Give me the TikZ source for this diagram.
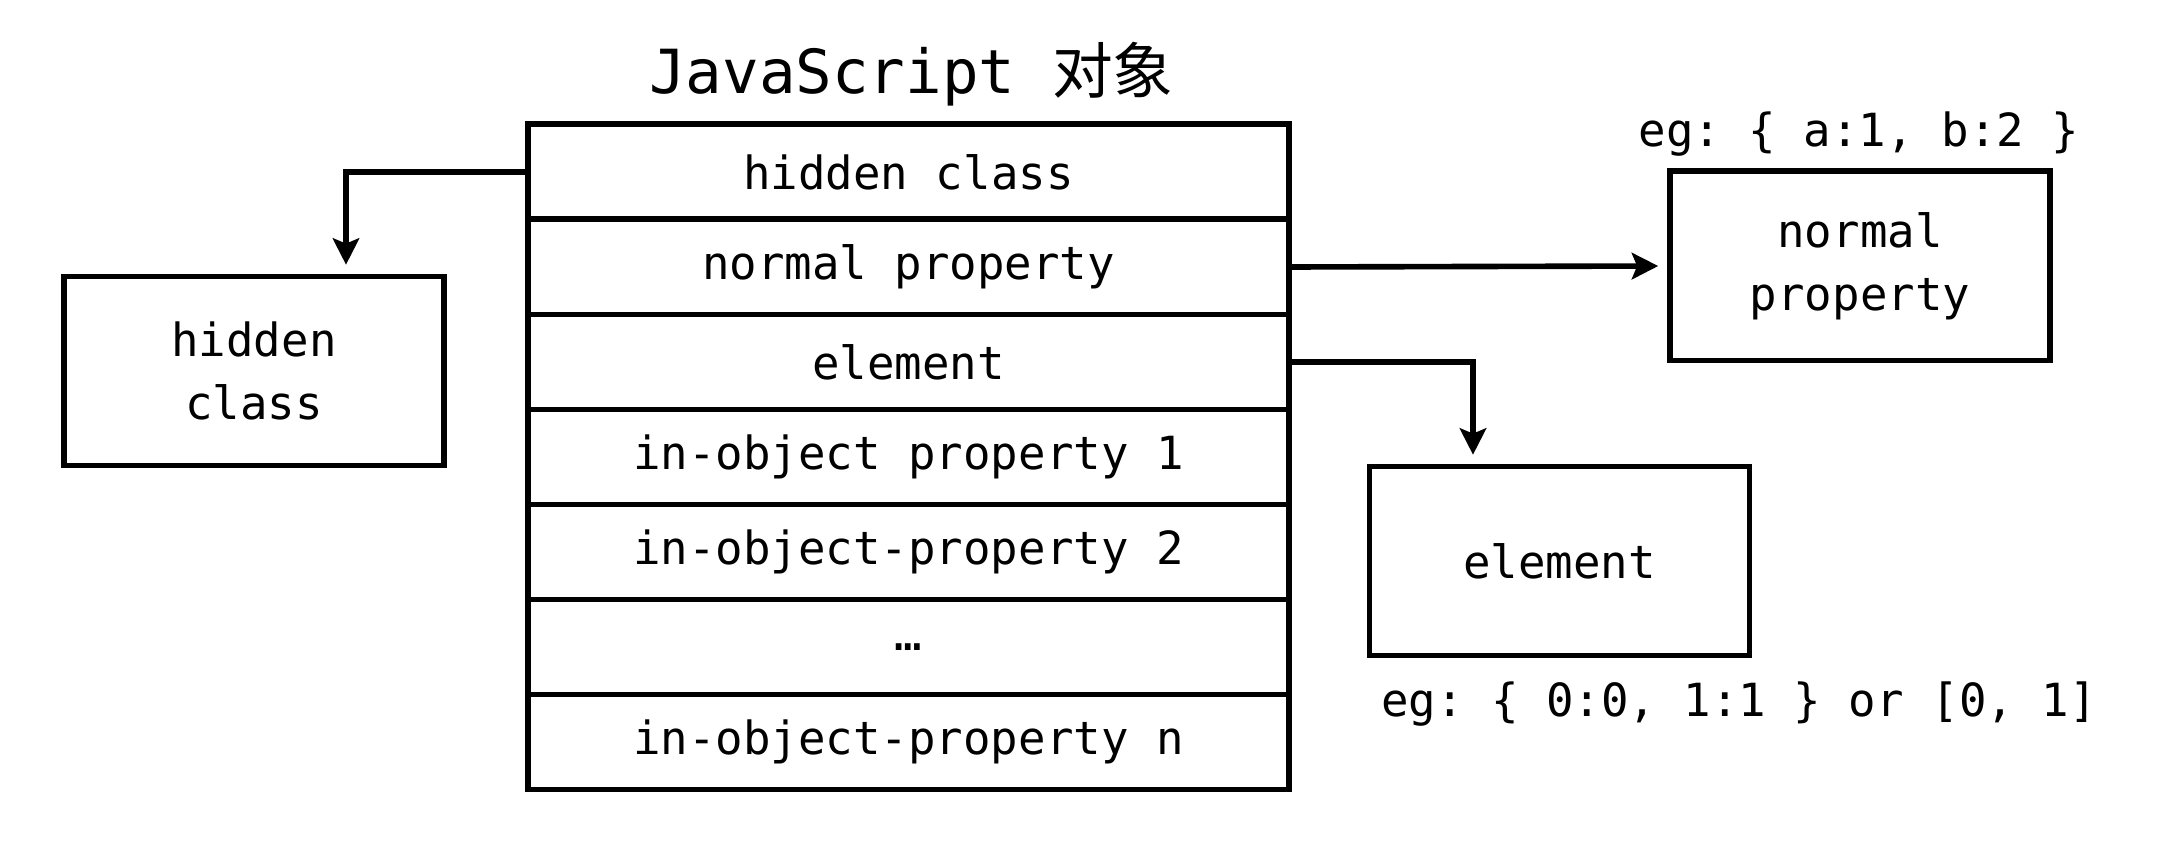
\documentclass[tikz,border=0pt]{standalone}
\usepackage{fontspec}
\usepackage{tikz}
\usetikzlibrary{arrows.meta}
\setmonofont{DejaVu Sans Mono}
\newfontfamily\cjk{Noto Sans CJK SC}

\begin{document}
\begin{tikzpicture}[font=\ttfamily\fontsize{13}{18}\selectfont,
		objrow/.style={draw,line width=1.7pt,minimum width=7.61cm,minimum height=0.95cm,inner sep=0pt},
		outbox/.style={draw,line width=1.7pt,minimum width=3.8cm,minimum height=1.89cm,align=center,inner sep=0pt},
		link/.style={line width=1.6pt,-{Stealth[length=7.5pt,width=7.5pt,inset=1.5pt]},shorten >=2.5pt}]
			\useasboundingbox (0,0) rectangle (21.58,8.46);
			\coordinate (r_1) at (9.085,6.74);
			\coordinate (r_2) at (9.085,5.79);
			\coordinate (r_3) at (9.085,4.84);
			\coordinate (r_4) at (9.085,3.89);
			\coordinate (r_5) at (9.085,2.94);
			\coordinate (r_6) at (9.085,1.99);
			\coordinate (r_7) at (9.085,1.04);
			\node (title) at (9.115,7.72) {\fontsize{17.3}{20}\selectfont JavaScript {\cjk 对象}};
			\node[objrow] (row_1) at (r_1) {hidden class};
			\node[objrow] (row_2) at (r_2) {normal property};
			\node[objrow] (row_3) at (r_3) {element};
			\node[objrow] (row_4) at (r_4) {in-object property 1};
			\node[objrow] (row_5) at (r_5) {in-object-property 2};
			\node[objrow] (row_6) at (r_6) {…};
			\node[objrow] (row_7) at (r_7) {in-object-property n};
			\node[outbox] (hidden) at (2.54,4.75) {hidden\\class};
			\node[outbox] (normal) at (18.60,5.80) {normal\\property};
			\node[outbox] (elem) at (15.595,2.85) {element};
			\node (eg_normal) at (18.59,7.12) {eg: \{ a:1, b:2 \}};
			\node (eg_elem) at (17.39,1.42) {eg: \{ 0:0, 1:1 \} or [0, 1]};
			\draw[link] (row_1.west) -| ([xshift=0.92cm]hidden.north);
			\draw[link] (row_2.east) -- (normal.west);
			\draw[link] (row_3.east) -| ([xshift=-0.865cm]elem.north);
		\end{tikzpicture}
\end{document}
